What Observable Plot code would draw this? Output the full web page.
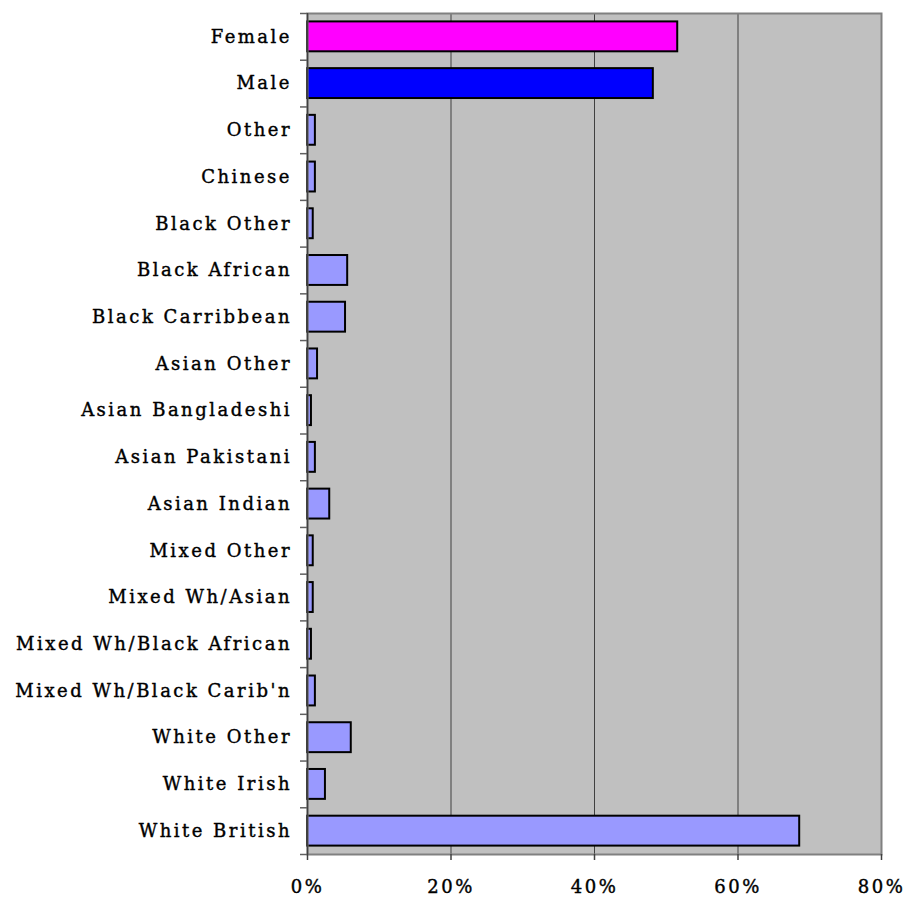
<!DOCTYPE html>
<html><head><meta charset="utf-8">
<script src="https://cdn.jsdelivr.net/npm/d3@7"></script>
<script src="https://cdn.jsdelivr.net/npm/@observablehq/plot@0.6"></script>
<style>body{margin:0;background:#fff}</style>
</head><body><div id="chart"></div>
<script>
const categories = ["Female","Male","Other","Chinese","Black Other","Black African","Black Carribbean","Asian Other","Asian Bangladeshi","Asian Pakistani","Asian Indian","Mixed Other","Mixed Wh/Asian","Mixed Wh/Black African","Mixed Wh/Black Carib'n","White Other","White Irish","White British"];
const values = [51.6,48.2,1.1,1.1,0.8,5.6,5.3,1.4,0.55,1.1,3.1,0.8,0.8,0.55,1.1,6.1,2.5,68.6];
const groups = ["Female","Male","Ethnicity","Ethnicity","Ethnicity","Ethnicity","Ethnicity","Ethnicity","Ethnicity","Ethnicity","Ethnicity","Ethnicity","Ethnicity","Ethnicity","Ethnicity","Ethnicity","Ethnicity","Ethnicity"];
const groupDomain = ["Female","Male","Ethnicity"];
const groupColors = ["#ff00ff","#0000ff","#9999ff"];
const xTicks = [0,20,40,60,80];
const gridTicks = [20,40,60];

const data = categories.map((c,i)=>({category:c, value:values[i], group:groups[i]}));
const font = "'DejaVu Serif', serif";
const H = 897, mt = 13, mb = 43;
const step = (H - mt - mb) / categories.length;

const chart = Plot.plot({
  width: 908, height: H,
  marginLeft: 307, marginRight: 27, marginTop: mt, marginBottom: mb,
  style: {fontFamily: font, fontSize: "18px", color: "#000", background: "#fff"},
  x: {domain: [0,80], label: null},
  y: {domain: categories, paddingInner: 0.36, paddingOuter: 0.18, round: false, label: null},
  color: {domain: groupDomain, range: groupColors},
  marks: [
    Plot.frame({fill: "#c0c0c0", stroke: null}),
    Plot.ruleX(gridTicks, {stroke: "#404040", strokeWidth: 1}),
    Plot.barX(data, {x: "value", y: "category", fill: "group", stroke: "#000", strokeWidth: 2}),
    Plot.frame({stroke: "#808080", strokeWidth: 2}),
    Plot.ruleX([0], {stroke: "#404040", strokeWidth: 1.5}),
    Plot.axisX({ticks: xTicks, tickFormat: d => d + "%", tickSize: 6, tickPadding: 20, stroke: "#404040", strokeWidth: 1.5, fontSize: 18}),
    Plot.axisY({tickSize: 0, tickPadding: 15.5, fontSize: 18}),
    Plot.axisY({tickSize: 7, text: null, dy: -step/2, stroke: "#606060", strokeWidth: 1.5}),
    Plot.axisY({ticks: [categories[categories.length-1]], tickSize: 7, text: null, dy: step/2, stroke: "#606060", strokeWidth: 1.5})
  ]
});
document.getElementById("chart").append(chart);
chart.querySelectorAll("[aria-label='y-axis tick label'] text, [aria-label='x-axis tick label'] text").forEach(t => {
  t.style.letterSpacing = "2.5px";
  t.style.stroke = "#000";
  t.style.strokeWidth = "0.4px";
});
</script>
</body></html>
